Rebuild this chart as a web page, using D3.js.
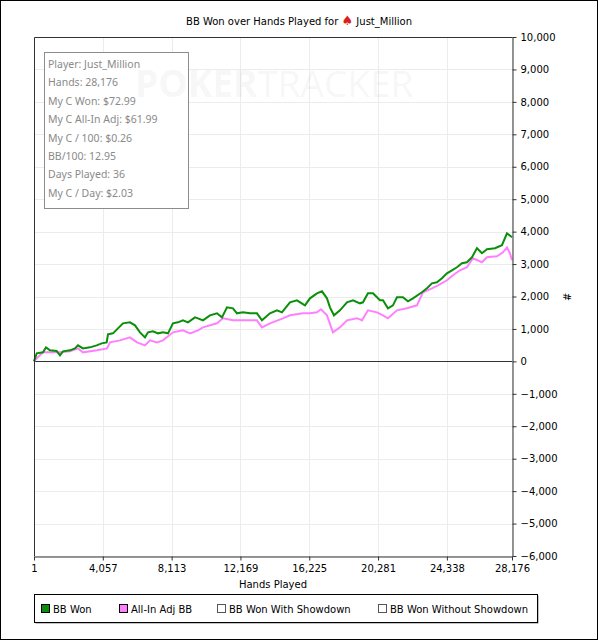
<!DOCTYPE html>
<html>
<head>
<meta charset="utf-8">
<script src="https://cdn.jsdelivr.net/npm/d3@7"></script>
<style>
  body { margin: 0; background: #fff; }
  svg { display: block; }
  text { font-family: "DejaVu Sans", sans-serif; }
</style>
</head>
<body>
<svg id="chart"></svg>
<script>
// series: hands played vs cumulative big blinds
let wonHands = [1,160,530,707,943,1338,1532,1709,2122,2417,2593,2888,3301,3696,3990,4285,4362,4656,4951,5246,5658,5953,6248,6543,6720,7014,7309,7604,7899,8193,8488,8782,9077,9490,9666,9961,10373,10786,11081,11375,11729,11965,12318,12731,13144,13438,13910,14322,14617,15089,15501,15973,16267,16680,16975,17270,17446,17682,18036,18448,18802,19214,19391,19686,19981,20393,20570,20865,21159,21395,21749,22043,22338,22869,23163,23458,23753,24048,24342,24637,24932,25226,25521,25816,26110,26405,26700,27171,27584,27879,28176]
let wonBB = [0,247,278,432,340,318,185,309,340,401,494,401,432,494,555,586,833,864,1018,1173,1204,1111,895,741,895,926,864,895,864,1173,1204,1265,1204,1358,1327,1265,1420,1481,1358,1666,1636,1481,1512,1481,1481,1265,1481,1574,1512,1821,1882,1728,1944,2098,2160,1944,1666,1420,1574,1821,1882,1790,1821,2098,2098,1882,1882,1636,1728,1975,1975,1852,1944,2129,2253,2407,2438,2561,2716,2808,2901,3024,3055,3209,3487,3333,3456,3487,3580,3950,3826]

let adjHands = [1,160,530,943,1532,2122,2593,2888,3713,4303,4480,5069,5658,6071,6543,6837,7250,7604,8193,8782,9195,9666,9961,10786,11140,11729,12318,13144,13438,13910,14676,15089,15855,16267,16680,16916,17270,17623,18036,18448,19037,19214,19332,19686,20216,20570,20865,21395,21985,22574,22928,23458,23812,24342,24696,25108,25521,25875,26405,26700,27289,27643,27879,28056,28176]
let adjBB = [0,93,278,278,278,309,401,278,340,401,586,648,741,586,494,648,586,648,895,957,864,957,1049,1173,1327,1265,1265,1265,1049,1173,1327,1420,1481,1481,1512,1605,1420,895,1049,1265,1327,1296,1265,1574,1512,1420,1327,1574,1636,1728,2129,2253,2345,2500,2654,2808,2901,3179,3055,3209,3240,3364,3518,3333,3117]

let xTicks = [1,4057,8113,12169,16225,20281,24338,28176]
let yTicks = [-6000,-5000,-4000,-3000,-2000,-1000,0,1000,2000,3000,4000,5000,6000,7000,8000,9000,10000]

let statLines = ['Player: Just_Million','Hands: 28,176','My C Won: $72.99','My C All-In Adj: $61.99','My C / 100: $0.26','BB/100: 12.95','Days Played: 36','My C / Day: $2.03']

let legendItems = ['BB Won','All-In Adj BB','BB Won With Showdown','BB Won Without Showdown']
let legendColors = ['#0a8f0a','#ff80ff','#ffffff','#ffffff']
let legendX = [41,119,217,378]

let width = 598
let height = 640
let plotLeft = 34, plotTop = 37, plotRight = 512, plotBottom = 556

let svg = d3.select('#chart').attr('width', width).attr('height', height)

svg.append('rect')
   .attr('x',0.5).attr('y',0.5)
   .attr('width',width-1).attr('height',height-1)
   .attr('fill','#fff').attr('stroke','#000')

let xScale = d3.scaleLinear().domain([1,28176]).range([plotLeft,plotRight])
let yScale = d3.scaleLinear().domain([-6000,10000]).range([plotBottom,plotTop])

// grid
svg.append('g').selectAll('line')
   .data(yTicks).enter().append('line')
   .attr('x1',plotLeft).attr('x2',plotRight)
   .attr('y1',d=>Math.round(yScale(d))+0.5).attr('y2',d=>Math.round(yScale(d))+0.5)
   .attr('stroke','#ececec')
svg.append('g').selectAll('line')
   .data(xTicks).enter().append('line')
   .attr('y1',plotTop).attr('y2',plotBottom)
   .attr('x1',d=>Math.round(xScale(d))+0.5).attr('x2',d=>Math.round(xScale(d))+0.5)
   .attr('stroke','#ececec')

// stats box
svg.append('rect')
   .attr('x',44.5).attr('y',52.5).attr('width',144).attr('height',156)
   .attr('fill','#fff').attr('stroke','#8c8c8c')

// watermark
let wm = svg.append('text')
   .attr('x',135).attr('y',97)
   .style('font-family','"Open Sans", sans-serif')
   .style('font-size','37px')
   .attr('fill','#000').attr('fill-opacity',0.055)
wm.append('tspan').style('font-weight','bold').text('POKER')
wm.append('tspan').text('TRACKER')

svg.append('g').selectAll('text')
   .data(statLines).enter().append('text')
   .attr('x',48)
   .attr('y',(d,i)=>68+i*18.4)
   .style('font-family','"Noto Sans", sans-serif')
   .style('font-size','10.5px')
   .attr('fill','#8a8a8a')
   .text(d=>d)

// zero line
svg.append('line')
   .attr('x1',plotLeft).attr('x2',plotRight)
   .attr('y1',Math.round(yScale(0))+0.5).attr('y2',Math.round(yScale(0))+0.5)
   .attr('stroke','#333')

// lines
let line = d3.line().x(d=>xScale(d[0])).y(d=>yScale(d[1]))
svg.append('path')
   .datum(d3.zip(adjHands, adjBB))
   .attr('d', line)
   .attr('fill','none').attr('stroke','#ff80ff').attr('stroke-width',2)
svg.append('path')
   .datum(d3.zip(wonHands, wonBB))
   .attr('d', line)
   .attr('fill','none').attr('stroke','#0a8f0a').attr('stroke-width',2)

// plot border
svg.append('path')
   .attr('d','M'+(plotLeft+0.5)+','+plotBottom+'V'+(plotTop+0.5)+'H'+(plotRight+0.5))
   .attr('fill','none').attr('stroke','#333')

// axes
let xAxis = d3.axisBottom(xScale).tickValues(xTicks).tickFormat(d3.format(',')).tickSizeInner(4).tickSizeOuter(0)
let yAxis = d3.axisRight(yScale).tickValues(yTicks).tickFormat(d3.format(',')).tickSizeInner(4).tickSizeOuter(0)

let gx = svg.append('g')
   .attr('transform','translate(0,'+(plotBottom+0.5)+')')
   .call(xAxis)
gx.select('.domain').attr('stroke','#333')
gx.selectAll('.tick line').attr('stroke','#333')
gx.selectAll('text').style('font-size','10px').attr('fill','#000').attr('dy','0.85em')

let gy = svg.append('g')
   .attr('transform','translate('+(plotRight+0.5)+',0)')
   .call(yAxis)
gy.select('.domain').attr('stroke','#333')
gy.selectAll('.tick line').attr('stroke','#333')
gy.selectAll('text').style('font-size','10px').attr('fill','#000').attr('x',8)

svg.append('text')
   .attr('x',(plotLeft+plotRight)/2).attr('y',588)
   .attr('text-anchor','middle')
   .style('font-size','10px')
   .text('Hands Played')

svg.append('text')
   .attr('transform','translate(566,297) rotate(90)')
   .attr('text-anchor','middle')
   .attr('dy','0.35em')
   .style('font-size','10px')
   .text('#')

// title
let title = svg.append('text')
   .attr('x',299).attr('y',25)
   .attr('text-anchor','middle')
   .style('font-size','10px')
title.append('tspan').text('BB Won over Hands Played for ')
title.append('tspan').attr('fill','#d8201c').style('font-size','13px').text('\u2660')
title.append('tspan').text(' Just_Million')

// legend
svg.append('rect')
   .attr('x',35.5).attr('y',595.5).attr('width',503).attr('height',28)
   .attr('fill','#888')
svg.append('rect')
   .attr('x',34.5).attr('y',594.5).attr('width',503).attr('height',28)
   .attr('fill','#fff').attr('stroke','#000')

let lg = svg.append('g').selectAll('g')
   .data(legendItems).enter().append('g')
   .attr('transform',(d,i)=>'translate('+legendX[i]+',604)')
lg.append('rect')
   .attr('x',0.5).attr('y',0.5).attr('width',8).attr('height',8)
   .attr('fill',(d,i)=>legendColors[i])
   .attr('stroke',(d,i)=>i<2?'#000':'#555')
lg.append('text')
   .attr('x',12).attr('y',8.5)
   .style('font-size','10px')
   .text(d=>d)
</script>
</body>
</html>
